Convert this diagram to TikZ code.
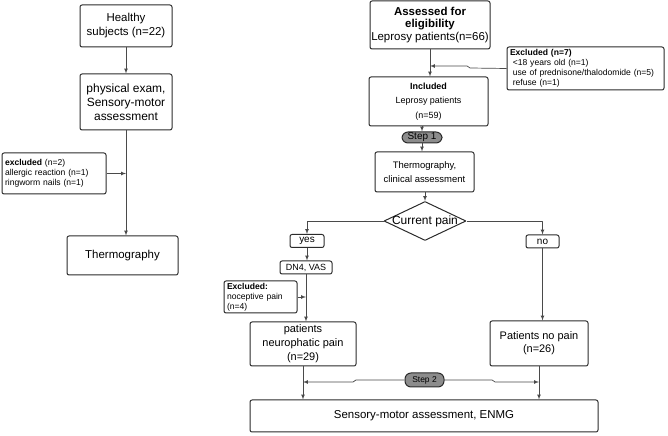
\documentclass[tikz,border=0pt]{standalone}
\usepackage{fontspec}
\setmainfont{Liberation Sans}
\usetikzlibrary{shapes.geometric}
\definecolor{boxline}{HTML}{2B2B2B}
\definecolor{edgeline}{HTML}{4A4A4A}
\definecolor{stepfill}{HTML}{8C8C8C}
\newcommand{\szL}{\fontsize{11.5}{14}\selectfont}
\newcommand{\szM}{\fontsize{9.5}{14}\selectfont}
\newcommand{\szS}{\fontsize{8.6}{10}\selectfont}
\begin{document}
\begin{tikzpicture}[>=latex,line join=bevel,
  box/.style={draw=boxline,line width=1bp,rounded corners=2bp,fill=white,inner sep=0pt,align=center},
  note/.style={box,align=left,inner xsep=3bp,font=\szS},
  stepbox/.style={draw=boxline,line width=1bp,fill=stepfill,rounded corners=6bp,inner sep=0pt},
  decision/.style={diamond,draw=boxline,line width=1bp,inner sep=0pt,minimum width=82bp,minimum height=39bp},
  conn/.style={draw=edgeline,line width=0.7bp,->}]
\useasboundingbox (0bp,0bp) rectangle (668bp,436bp);
%% healthy subjects
\node (healthy) at (126bp,410bp) [box,minimum width=92bp,minimum height=42bp,font=\szL] {Healthy\\subjects (n=22)};
  \node (physexam) at (126bp,334bp) [box,minimum width=92bp,minimum height=56bp,font=\fontsize{12}{14}\selectfont] {physical exam,\\Sensory-motor\\assessment};
  \node (exclH) at (54bp,262.5bp) [note,text width=98bp,minimum height=41bp] {\textbf{excluded} (n=2)\\allergic reaction (n=1)\\ringworm nails (n=1)};
  \node (thermoH) at (122.5bp,180.5bp) [box,minimum width=111bp,minimum height=39bp,font=\szL] {Thermography};
  \draw [conn] (healthy) -- (physexam);
  \draw [conn] (physexam.south) -- (physexam.south |- thermoH.north);
  \draw [conn] (exclH.east) -- (exclH.east -| physexam.south);
%% leprosy patients
\node (assessed) at (430bp,411bp) [box,minimum width=120bp,minimum height=48bp,font=\fontsize{11.5}{13}\selectfont] {\textbf{Assessed for}\\\textbf{eligibility}\\Leprosy patients(n=66)};
  \node (exclL) at (585.5bp,367.5bp) [note,text width=151bp,minimum height=43bp] {\textbf{Excluded (n=7)}\\\ {<}18 years old (n=1)\\\ use of prednisone/thalodomide (n=5)\\\ refuse (n=1)};
  \node (included) at (428.5bp,334.5bp) [box,minimum width=119bp,minimum height=49bp,font=\fontsize{9}{14.5}\selectfont] {\textbf{Included}\\Leprosy patients\\(n=59)};
  \node (step1) at (422bp,298.5bp) [stepbox,minimum width=40bp,minimum height=11bp,font=\fontsize{10}{11}\selectfont] {Step 1};
  \node (thermoL) at (424.5bp,264bp) [box,minimum width=99bp,minimum height=40bp,font=\szM] {Thermography,\\clinical assessment};
  \node (pain) at (425bp,215bp) [decision,label={[font=\fontsize{12}{14}\selectfont]center:Current pain}] {};
  \node (yes) at (307bp,195bp) [box,minimum width=34bp,minimum height=13bp,font=\fontsize{10}{11}\selectfont] {yes};
  \node (no) at (542.5bp,194.5bp) [box,minimum width=33bp,minimum height=13bp,font=\fontsize{10}{11}\selectfont] {no};
  \node (dn4) at (306bp,168.5bp) [box,minimum width=52bp,minimum height=13bp,font=\fontsize{9}{11}\selectfont] {DN4, VAS};
  \node (exclN) at (260.5bp,139bp) [note,text width=67bp,minimum height=32bp] {\textbf{Excluded:}\\noceptive pain\\(n=4)};
  \node (neuro) at (303bp,92bp) [box,minimum width=106bp,minimum height=44bp,font=\fontsize{11}{14}\selectfont] {patients\\neurophatic pain\\(n=29)};
  \node (nopain) at (539bp,92.5bp) [box,minimum width=98bp,minimum height=45bp,font=\fontsize{11}{13}\selectfont] {Patients no pain\\(n=26)};
  \node (step2) at (424.5bp,56bp) [stepbox,minimum width=39bp,minimum height=14bp,font=\fontsize{8.5}{10}\selectfont] {Step 2};
  \node (sensory) at (424bp,20bp) [box,minimum width=348bp,minimum height=32bp,font=\szL] {Sensory-motor assessment, ENMG};
%
\coordinate (joinL) at (430bp,370bp);
  \coordinate (joinN) at (303bp,54bp);
  \coordinate (joinP) at (539bp,54bp);
  \draw [conn] (assessed.south) -- (assessed.south |- included.north);
  \draw [conn] (exclL.west) -- (470bp,368bp) -- (467bp,370bp) -- (joinL);
  \draw [conn] (step1.north |- included.south) -- (step1.north);
  \draw [conn] (step1.south) -- (step1.south |- thermoL.north);
  \draw [conn] (thermoL.south -| pain.north) -- (pain.north);
  \draw [conn] (pain.west) -| (yes.north);
  \draw [conn] (pain.east) -| (no.north);
  \draw [conn] (yes.south) -- (yes.south |- dn4.north);
  \draw [conn] (dn4.south) -- (dn4.south |- neuro.north);
  \draw [conn] (exclN.east) -- (exclN.east -| dn4.south);
  \draw [conn] (no.south) -- (no.south |- nopain.north);
  \draw [conn] (neuro.south) -- (neuro.south |- sensory.north);
  \draw [conn] (nopain.south) -- (nopain.south |- sensory.north);
  \draw [conn] (step2.west) -- (356bp,56bp) -- (353bp,54bp) -- (joinN);
  \draw [conn] (step2.east) -- (492bp,56bp) -- (495bp,54bp) -- (joinP);
%
\end{tikzpicture}
\end{document}
